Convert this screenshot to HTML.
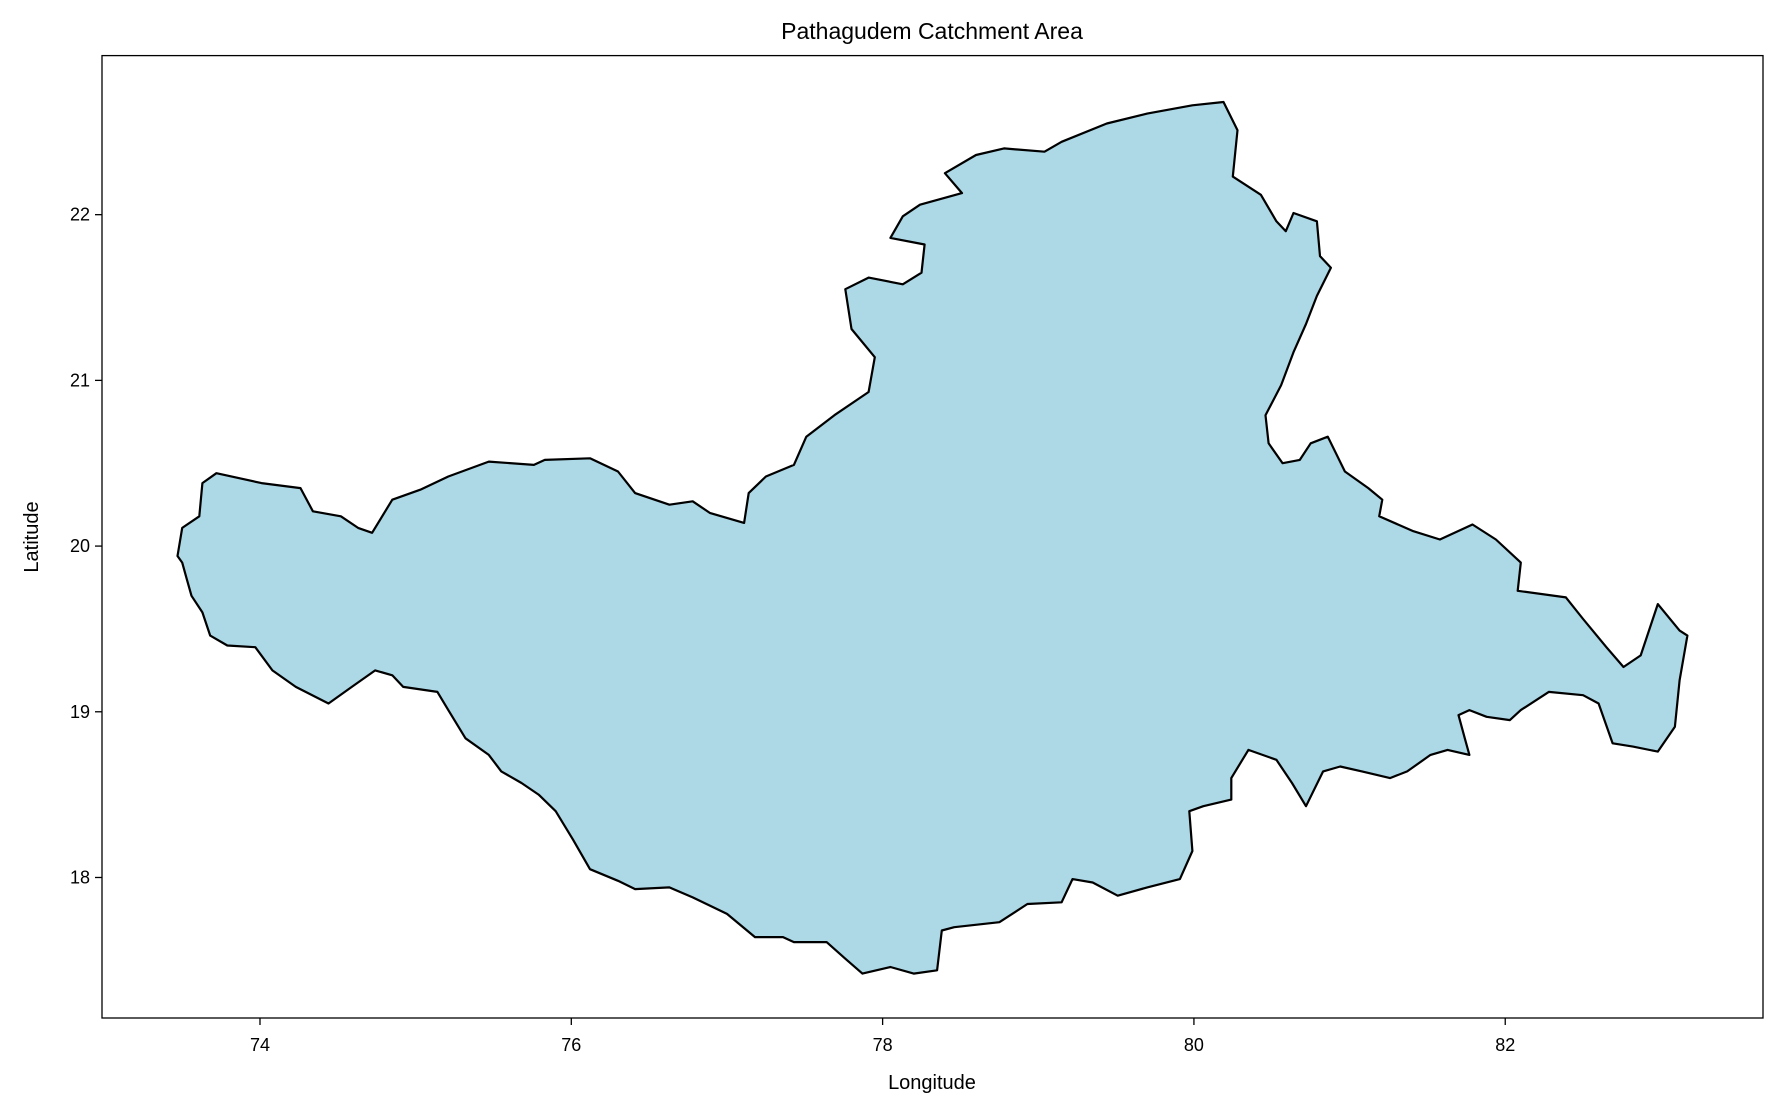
<!DOCTYPE html>
<html><head><meta charset="utf-8"><style>
html,body{margin:0;padding:0;background:#fff;}
svg text{font-family:"Liberation Sans","DejaVu Sans",sans-serif;fill:#000;}
</style></head><body>
<svg id="chart" width="1780" height="1113" viewBox="0 0 1780 1113" xmlns="http://www.w3.org/2000/svg">
<text x="932" y="39" font-size="23" text-anchor="middle">Pathagudem Catchment Area</text>
<g id="plot"></g>
<text x="932" y="1089" font-size="20" text-anchor="middle">Longitude</text>
<text x="38" y="537" font-size="20" text-anchor="middle" transform="rotate(-90 38 537)">Latitude</text>
</svg>
<script>
const lons=[73.47,73.50,73.61,73.63,73.72,74.01,74.26,74.34,74.52,74.63,74.72,74.85,75.03,75.21,75.47,75.76,75.83,76.12,76.30,76.41,76.63,76.78,76.89,77.11,77.14,77.25,77.43,77.51,77.69,77.91,77.95,77.80,77.76,77.91,78.13,78.25,78.27,78.05,78.13,78.24,78.51,78.40,78.60,78.78,79.04,79.15,79.44,79.70,79.99,80.19,80.28,80.25,80.43,80.53,80.59,80.64,80.79,80.81,80.88,80.79,80.72,80.64,80.56,80.46,80.48,80.57,80.68,80.75,80.86,80.97,81.12,81.21,81.19,81.41,81.58,81.79,81.94,82.10,82.08,82.39,82.50,82.65,82.76,82.87,82.98,83.12,83.17,83.12,83.09,82.98,82.82,82.69,82.60,82.50,82.28,82.10,82.03,81.88,81.77,81.70,81.74,81.77,81.63,81.52,81.37,81.26,81.08,80.94,80.83,80.72,80.63,80.53,80.35,80.24,80.24,80.06,79.97,79.99,79.91,79.70,79.51,79.35,79.22,79.15,78.93,78.75,78.46,78.38,78.35,78.20,78.05,77.87,77.76,77.64,77.43,77.36,77.18,77.00,76.78,76.63,76.41,76.30,76.12,76.01,75.90,75.79,75.68,75.55,75.47,75.32,75.21,75.14,74.92,74.85,74.74,74.59,74.44,74.23,74.08,73.97,73.79,73.68,73.63,73.56,73.53,73.50];
const lats=[19.94,20.11,20.18,20.38,20.44,20.38,20.35,20.21,20.18,20.11,20.08,20.28,20.34,20.42,20.51,20.49,20.52,20.53,20.45,20.32,20.25,20.27,20.20,20.14,20.32,20.42,20.49,20.66,20.79,20.93,21.14,21.31,21.55,21.62,21.58,21.65,21.82,21.86,21.99,22.06,22.13,22.25,22.36,22.40,22.38,22.44,22.55,22.61,22.66,22.68,22.51,22.23,22.12,21.96,21.90,22.01,21.96,21.75,21.68,21.51,21.34,21.17,20.97,20.79,20.62,20.50,20.52,20.62,20.66,20.45,20.35,20.28,20.18,20.09,20.04,20.13,20.04,19.90,19.73,19.69,19.56,19.39,19.27,19.34,19.65,19.49,19.46,19.19,18.91,18.76,18.79,18.81,19.05,19.10,19.12,19.01,18.95,18.97,19.01,18.98,18.84,18.74,18.77,18.74,18.64,18.60,18.64,18.67,18.64,18.43,18.57,18.71,18.77,18.60,18.47,18.43,18.40,18.16,17.99,17.94,17.89,17.97,17.99,17.85,17.84,17.73,17.70,17.68,17.44,17.42,17.46,17.42,17.51,17.61,17.61,17.64,17.64,17.78,17.88,17.94,17.93,17.98,18.05,18.23,18.40,18.50,18.57,18.64,18.74,18.84,19.01,19.12,19.15,19.22,19.25,19.15,19.05,19.15,19.25,19.39,19.40,19.46,19.60,19.70,19.80,19.90];
const xTicks=[74,76,78,80,82];
const yTicks=[18,19,20,21,22];
const xDomain=[72.985,83.656], yDomain=[17.152,22.96];
const L=102,R=1763,T=55.6,B=1018;
const xs=v=>L+(v-xDomain[0])/(xDomain[1]-xDomain[0])*(R-L);
const ys=v=>B-(v-yDomain[0])/(yDomain[1]-yDomain[0])*(B-T);
const NS='http://www.w3.org/2000/svg';
const g=document.getElementById('plot');
function mk(t,a){const e=document.createElementNS(NS,t);for(const k in a)e.setAttribute(k,a[k]);g.appendChild(e);return e;}
let d='';
for(let i=0;i<lons.length;i++){d+=(i?'L':'M')+xs(lons[i]).toFixed(1)+','+ys(lats[i]).toFixed(1);}
d+='Z';
const poly=mk('path',{d:d,fill:'#add8e6',stroke:'#000','stroke-width':2.2,'stroke-linejoin':'round'});


const frame=mk('rect',{x:L,y:T,width:R-L,height:B-T,fill:'none',stroke:'#000','stroke-width':1.3});


xTicks.forEach(v=>{
  const x=xs(v);
  const t=mk('line',{x1:x,x2:x,y1:B,y2:B+7,stroke:'#000','stroke-width':1.3});
  
  
  const l=mk('text',{x:x,y:B+33,'font-size':18,'text-anchor':'middle'});
  l.textContent=v;
  
  
});
yTicks.forEach(v=>{
  const y=ys(v);
  const t=mk('line',{x1:L-7,x2:L,y1:y,y2:y,stroke:'#000','stroke-width':1.3});
  
  
  const l=mk('text',{x:L-12,y:y+6,'font-size':18,'text-anchor':'end'});
  l.textContent=v;
  
  
});
</script>
</body></html>
